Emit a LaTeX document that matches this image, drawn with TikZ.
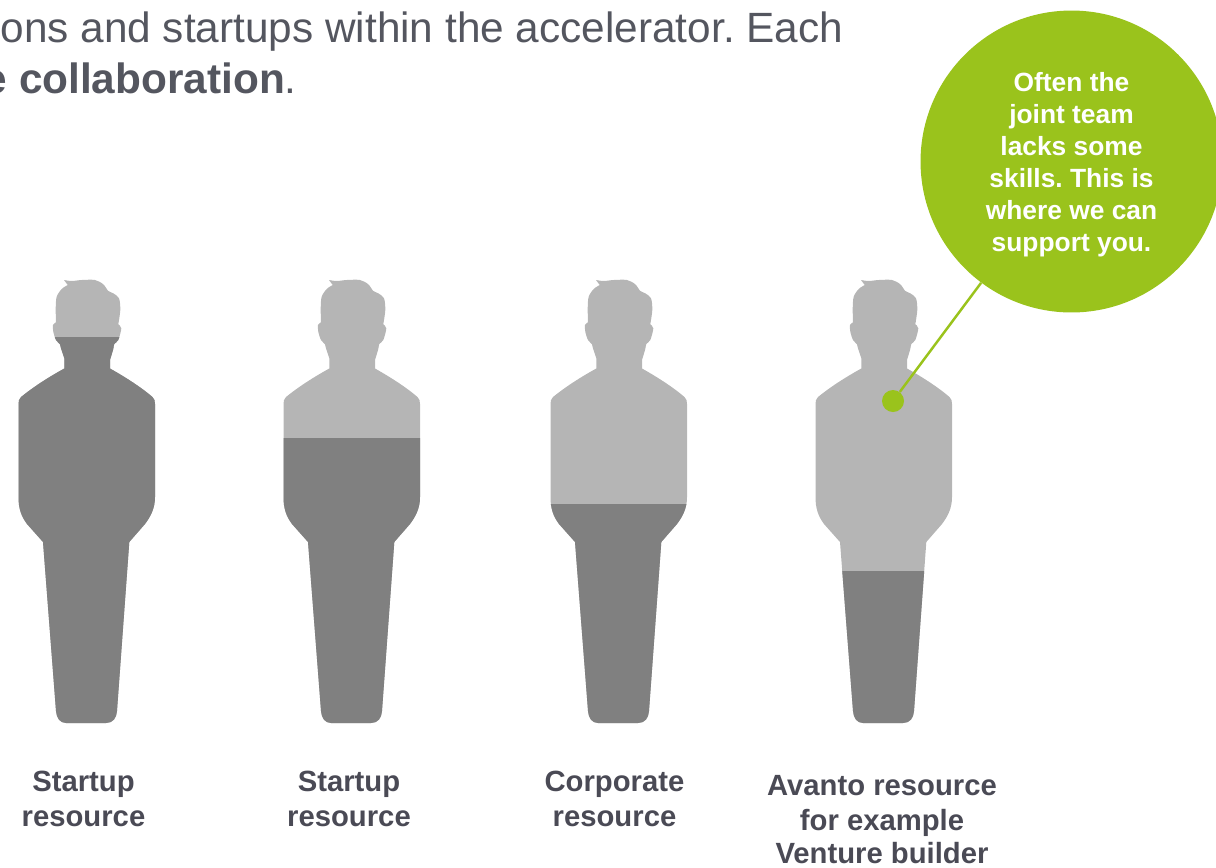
\documentclass[tikz,border=0pt]{standalone}
\usepackage{fontspec}
\setmainfont{Liberation Sans}
\usepackage{xcolor}
\usetikzlibrary{shapes,positioning,calc}
\definecolor{personlight}{HTML}{B5B5B5}
\definecolor{persondark}{HTML}{808080}
\definecolor{avantogreen}{HTML}{9AC31C}
\definecolor{introgray}{HTML}{54565F}
\definecolor{labelgray}{HTML}{4A4A55}
\frenchspacing
\tikzset{
  introtext/.style={anchor=base east, inner sep=0pt, text=introgray, font=\fontsize{24.1}{30}\selectfont},
  reslabel/.style={align=center, inner sep=0pt, text=labelgray, font=\bfseries\fontsize{16.65}{20}\selectfont},
  bubble/.style={circle, fill=avantogreen, minimum size=6.04cm, inner sep=0pt},
  bubbletext/.style={align=center, inner sep=0pt, text=white, font=\bfseries\fontsize{15}{18.2}\selectfont},
  pin/.style={circle, fill=avantogreen, minimum size=0.44cm, inner sep=0pt}
}
\newcommand{\personpath}{
  (-23,280) -- (-19.3,285)
  -- plot[smooth,tension=0.5] coordinates {(-19.3,285) (-25.3,289) (-30.3,296.7) (-31.3,308.3) (-31,322.3)}
  -- plot[smooth,tension=0.5] coordinates {(-31,322.3) (-34,325) (-33.7,331.7) (-31,340) (-27,344.3) (-26,348.3) (-22.7,358.3)}
  -- (-22.7,368.5)
  .. controls (-40,378) and (-55,388) .. (-66,397)
  .. controls (-68,399) and (-68.5,401) .. (-68.5,404)
  -- (-68.5,497) .. controls (-68.5,508) and (-66,516) .. (-60,524)
  -- (-44,542) -- (-31,711)
  .. controls (-30.5,718) and (-27,723) .. (-21,723)
  -- (19,723) .. controls (26,723) and (29.5,718) .. (30,711)
  -- (42.3,542) -- (58,524)
  .. controls (64,516) and (68,508) .. (68,497)
  -- (68,404) .. controls (68,401) and (67.5,399) .. (65.5,397)
  .. controls (55,388) and (40,378) .. (23,368.5)
  -- (23,360)
  -- plot[smooth,tension=0.5] coordinates {(23,360) (26.3,349) (27.3,344) (31.3,340) (34.3,328.3) (31.3,324.3)}
  -- plot[smooth,tension=0.5] coordinates {(31.3,324.3) (33.3,310) (32,298.3) (26.3,293.3) (21.3,291) (16.3,284.3) (8,280) (-5.3,280) (-15.3,281) (-23,280)}
  -- cycle}

\begin{document}
\begin{tikzpicture}[x=0.02cm,y=-0.02cm]
\useasboundingbox (0,0) rectangle (1216,867);
% persons, the dark part starts at the given level
\foreach \cx/\lev/\lx/\ly/\nm/\txt in {
  87/337/83.5/799/resa/{Startup\\resource},
  352/438/349/799/resb/{Startup\\resource},
  619/504/614.5/799/resc/{Corporate\\resource},
  884/571/882/819.5/resd/{Avanto resource\\for example\\[-1.7pt]Venture builder}}{
  \begin{scope}[shift={(\cx,0)}]
    \fill[personlight] \personpath;
    \begin{scope}
      \clip (-80,\lev) rectangle (80,730);
      \fill[persondark] \personpath;
    \end{scope}
  \end{scope}
  \node[reslabel] (\nm) at (\lx,\ly) {\txt};
}
\node[introtext] (introa) at (843.5,42) {ons and startups within the accelerator. Each};
\node[introtext] (introb) at (297,93) {\textbf{e collaboration}.};
% callout
\node[bubble] (skills) at (1071.5,161.5) {};
\node[bubbletext] (skillstext) at (1071.5,164.5) {Often the\\joint team\\lacks some\\skills. This is\\where we can\\support you.};
\node[pin] (dot) at (893,401) {};
\draw[avantogreen, line width=1.4pt] (dot) -- (skills);
\end{tikzpicture}
\end{document}
